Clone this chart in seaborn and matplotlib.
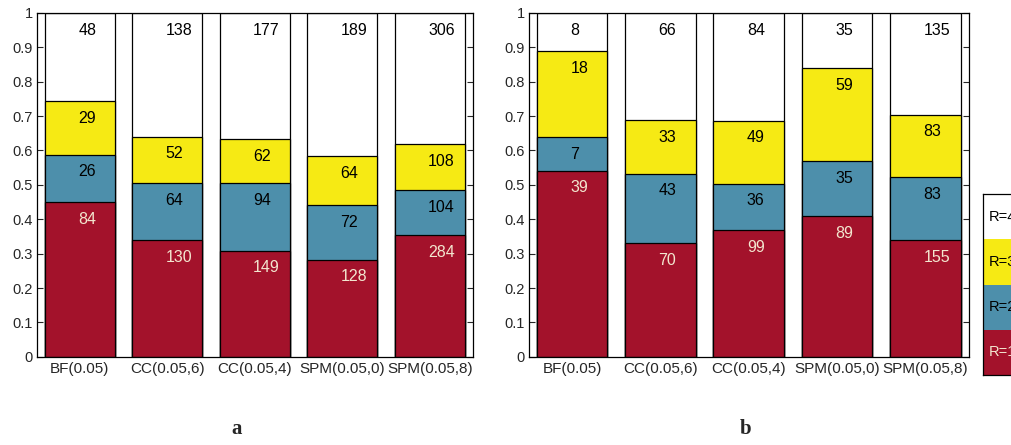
import numpy as np
import pandas as pd
import matplotlib
matplotlib.use("Agg")
import matplotlib.pyplot as plt
import seaborn as sns

methods = ["BF(0.05)", "CC(0.05,6)", "CC(0.05,4)", "SPM(0.05,0)", "SPM(0.05,8)"]
# counts per rank, panel a
a_r1 = [84, 130, 149, 128, 284]
a_r2 = [26, 64, 94, 72, 104]
a_r3 = [29, 52, 62, 64, 108]
a_r4 = [48, 138, 177, 189, 306]
# counts per rank, panel b
b_r1 = [39, 70, 99, 89, 155]
b_r2 = [7, 43, 36, 35, 83]
b_r3 = [18, 33, 49, 59, 83]
b_r4 = [8, 66, 84, 35, 135]

ranks = ["R=1", "R=2", "R=3", "R=4"]
colors = {"R=1": "#a3122b", "R=2": "#4d8fab", "R=3": "#f6ea14", "R=4": "#ffffff"}
txtcol = {"R=1": "#f3e6cf", "R=2": "black", "R=3": "black", "R=4": "black"}

sns.set_style("white")
plt.rcParams["font.family"] = ["Liberation Sans", "DejaVu Sans"]

fig = plt.figure(figsize=(10.11, 4.45), dpi=100)
ax_a = fig.add_axes([0.0366, 0.198, 0.431, 0.773])
ax_b = fig.add_axes([0.523, 0.198, 0.435, 0.773])


def draw(ax, counts):
    df = pd.DataFrame(dict(zip(ranks, counts)), index=methods)
    frac = df.div(df.sum(axis=1), axis=0)
    cum = frac.cumsum(axis=1)
    # overlay from top level down so seaborn bars stack visually
    for r in reversed(ranks):
        d = pd.DataFrame({"method": methods, "val": cum[r].values})
        sns.barplot(data=d, x="method", y="val", color=colors[r], ax=ax,
                    width=0.8, edgecolor="black", linewidth=0.9, saturation=1)
    for i, m in enumerate(methods):
        for r in ranks:
            ax.text(i - 0.02, cum.loc[m, r] - 0.05, str(df.loc[m, r]),
                    ha="left", va="center", fontsize=11.5, color=txtcol[r])
    ax.set_xlim(-0.49, 4.49)
    ax.set_ylim(0, 1)
    ax.set_yticks(np.arange(0, 1.01, 0.1))
    ax.set_yticklabels(["0"] + ["%.1f" % v for v in np.arange(0.1, 0.95, 0.1)] + ["1"])
    ax.set_xlabel("")
    ax.set_ylabel("")
    ax.tick_params(axis="y", direction="in", length=4, right=True, left=True,
                   labelsize=10.5, pad=3)
    ax.tick_params(axis="x", length=0, labelsize=11, pad=4)
    for s in ax.spines.values():
        s.set_color("black")
        s.set_linewidth(0.9)


draw(ax_a, [a_r1, a_r2, a_r3, a_r4])
draw(ax_b, [b_r1, b_r2, b_r3, b_r4])

fig.text(0.234, 0.025, "a", fontsize=15, fontweight="bold", family="Liberation Serif", ha="center")
fig.text(0.737, 0.025, "b", fontsize=15, fontweight="bold", family="Liberation Serif", ha="center")

# legend box, partly cut off at the right edge as in the figure
lg = fig.add_axes([0.972, 0.157, 0.06, 0.407])
lg.set_xlim(0, 1)
lg.set_ylim(0, 4)
for k, r in enumerate(ranks):
    lg.bar(0.5, 1, bottom=k, width=1, color=colors[r], edgecolor="none")
    lg.text(0.1, k + 0.5, r, ha="left", va="center", fontsize=10.5, color=txtcol[r])
lg.set_xticks([])
lg.set_yticks([])
for s in lg.spines.values():
    s.set_color("black")
    s.set_linewidth(0.9)

fig.savefig("out.png", dpi=100)
